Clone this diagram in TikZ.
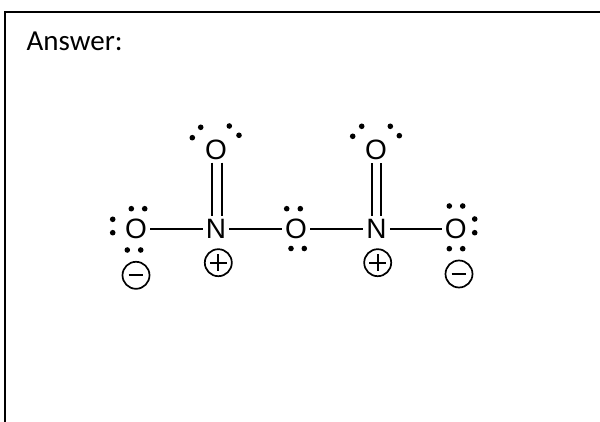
\documentclass[tikz,border=0pt]{standalone}
\usepackage{fontspec}
\setmainfont{Carlito}
\newfontfamily\atomfont{Liberation Sans}
\begin{document}
\begin{tikzpicture}[x=1pt,y=-1pt]
	\tikzstyle{atom}=[inner sep=3pt,font=\atomfont\fontsize{28}{28}\selectfont]
	\tikzstyle{bond}=[line width=1.9pt]
	\tikzstyle{charge}=[draw,shape=circle,line width=1.7pt,minimum size=27pt,inner sep=0pt]
	\tikzstyle{dot}=[fill,shape=circle,inner sep=0pt,minimum size=5.6pt]
	\tikzstyle{sign}=[line width=1.7pt]
	
	\useasboundingbox (0,0) rectangle (600,422);
	\draw[line width=2pt] (5.3,422) -- (5.3,12) -- (600,12);
	\node[anchor=base west,inner sep=0pt,font=\fontsize{29}{29}\selectfont](answer) at (26.5,51){Answer:};
	
	% atoms
	\node[atom](o1) at (136,229){O};
	\node[atom](n1) at (216,229){N};
	\node[atom](o2) at (296,229){O};
	\node[atom](n2) at (376.5,229){N};
	\node[atom](o3) at (455.7,229){O};
	\node[atom](o4) at (216,149.5){O};
	\node[atom](o5) at (376,150){O};
	
	% bonds
	\draw[bond] (o1) -- (n1);
	\draw[bond] (n1) -- (o2);
	\draw[bond] (o2) -- (n2);
	\draw[bond] (n2) -- (o3);
	\draw[bond] ([xshift=-3.7pt]o4.south) -- ([xshift=-3.7pt]n1.north);
	\draw[bond] ([xshift=5.7pt]o4.south) -- ([xshift=5.7pt]n1.north);
	\draw[bond] ([xshift=-4.3pt]o5.south) -- ([xshift=-4.8pt]n2.north);
	\draw[bond] ([xshift=5.3pt]o5.south) -- ([xshift=4.8pt]n2.north);
	
	% lone pairs
	\foreach \x/\y [count=\i] in {131.3/208.7,144.7/208.7,112.7/219.3,112.7/232.7,127.3/250,140.7/250,
		286.7/208.7,300.3/208.7,291/248.5,304.3/248.5,
		449.3/206,462.7/206,449.3/248.7,462.7/248.7,474.7/219,474.7/232.7,
		192.3/137.7,200.7/127.3,229.3/126,239/135.3,
		352.7/136.3,361.7/126.3,390.3/126.3,399.3/135.7}
		\node[dot](d\i) at (\x,\y){};
	
	% charges
	\node[charge](q1) at (136,275.3){};
	\node[charge](q2) at (218.3,262.7){};
	\node[charge](q3) at (377.7,262.7){};
	\node[charge](q4) at (459,274){};
	\draw[sign] ([xshift=7pt]q1.west) -- ([xshift=-7pt]q1.east);
	\draw[sign] ([xshift=6pt]q2.west) -- ([xshift=-6pt]q2.east);
	\draw[sign] ([yshift=-6pt]q2.north) -- ([yshift=6pt]q2.south);
	\draw[sign] ([xshift=6pt]q3.west) -- ([xshift=-6pt]q3.east);
	\draw[sign] ([yshift=-6pt]q3.north) -- ([yshift=6pt]q3.south);
	\draw[sign] ([xshift=7pt]q4.west) -- ([xshift=-7pt]q4.east);
\end{tikzpicture}
\end{document}
